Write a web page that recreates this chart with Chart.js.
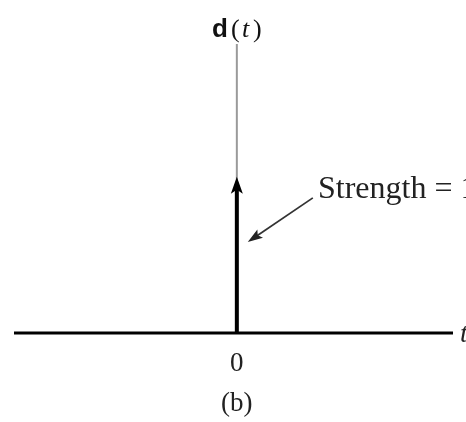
<!DOCTYPE html>
<html>
<head>
<meta charset="utf-8">
<script src="https://cdn.jsdelivr.net/npm/chart.js@4/dist/chart.umd.min.js"></script>
<style>
  html, body { margin: 0; padding: 0; background: #fff; }
  #wrap { width: 466px; height: 422px; }
</style>
</head>
<body>
<div id="wrap"><canvas id="chart" width="466" height="422"></canvas></div>
<script>
// impulse at t = 0 with unit strength
const impulseTimes = [0];
const impulseStrengths = [1];
const xTickValues = [0];
const xTickLabels = ['0'];
const strengthLabel = 'Strength = 1';
const panelLabel = '(b)';

const xMin = -1, xMax = 0.97;
const yMin = 0, yMax = 1.85;

// draws a filled arrowhead with a small notch at the back
function arrowHead(ctx, tipX, tipY, fromX, fromY, len, half, notch) {
  const ang = Math.atan2(tipY - fromY, tipX - fromX);
  const c = Math.cos(ang), s = Math.sin(ang);
  const bx = tipX - c * len, by = tipY - s * len;
  ctx.beginPath();
  ctx.moveTo(tipX, tipY);
  ctx.lineTo(bx - s * half, by + c * half);
  ctx.lineTo(tipX - c * (len - notch), tipY - s * (len - notch));
  ctx.lineTo(bx + s * half, by - c * half);
  ctx.closePath();
  ctx.fill();
}

const sketchPlugin = {
  id: 'sketch',
  beforeDatasetsDraw(chart) {
    const { ctx, scales: { x, y } } = chart;
    ctx.save();
    // vertical axis, thin gray
    ctx.strokeStyle = '#9a9a9a';
    ctx.lineWidth = 2;
    ctx.beginPath();
    ctx.moveTo(x.getPixelForValue(0), y.getPixelForValue(yMin));
    ctx.lineTo(x.getPixelForValue(0), y.getPixelForValue(yMax));
    ctx.stroke();
    ctx.restore();
  },
  afterDatasetsDraw(chart) {
    const { ctx, chartArea, scales: { x, y } } = chart;
    const y0 = y.getPixelForValue(0);
    ctx.save();

    // time axis
    ctx.strokeStyle = '#000';
    ctx.lineWidth = 3;
    ctx.beginPath();
    ctx.moveTo(chartArea.left, y0);
    ctx.lineTo(chartArea.right, y0);
    ctx.stroke();

    // arrowheads on the impulses
    ctx.fillStyle = '#000';
    impulseTimes.forEach((t, i) => {
      const px = x.getPixelForValue(t);
      const py = y.getPixelForValue(impulseStrengths[i]);
      arrowHead(ctx, px, py, px, y0, 17, 6, 4);
    });

    // tick labels
    ctx.fillStyle = '#222';
    ctx.textAlign = 'center';
    ctx.textBaseline = 'alphabetic';
    ctx.font = '27px "Liberation Serif", serif';
    xTickValues.forEach((v, i) => {
      ctx.fillText(xTickLabels[i], x.getPixelForValue(v), 371);
    });

    // axis names
    ctx.font = 'italic 28px "Liberation Serif", serif';
    ctx.textAlign = 'left';
    ctx.fillText('t', chartArea.right + 7, y0 + 9);

    const vx = x.getPixelForValue(0);
    ctx.fillStyle = '#111';
    ctx.font = 'bold 26px "Liberation Sans", sans-serif';
    ctx.fillText('d', 212, 37);
    ctx.font = '26px "Liberation Serif", serif';
    ctx.fillText('(', 231, 37);
    ctx.font = 'italic 26px "Liberation Serif", serif';
    ctx.fillText('t', 242, 37);
    ctx.font = '26px "Liberation Serif", serif';
    ctx.fillText(')', 253, 37);

    // strength annotation
    const ax0 = x.getPixelForValue(0.341), ay0 = y.getPixelForValue(0.865);
    const ax1 = x.getPixelForValue(0.049), ay1 = y.getPixelForValue(0.583);
    ctx.strokeStyle = '#333';
    ctx.lineWidth = 1.8;
    ctx.beginPath();
    ctx.moveTo(ax0, ay0);
    ctx.lineTo(ax1 + (ax0 - ax1) * 0.12, ay1 + (ay0 - ay1) * 0.12);
    ctx.stroke();
    ctx.fillStyle = '#222';
    arrowHead(ctx, ax1, ay1, ax0, ay0, 15, 5, 3);

    ctx.font = '32px "Liberation Serif", serif';
    ctx.fillText(strengthLabel, 318, 198);

    // panel caption
    ctx.textAlign = 'center';
    ctx.font = '27px "Liberation Serif", serif';
    ctx.fillText(panelLabel, vx, 411);
    ctx.restore();
  }
};

new Chart(document.getElementById('chart'), {
  type: 'scatter',
  data: {
    datasets: impulseTimes.map((t, i) => ({
      type: 'line',
      data: [{ x: t, y: 0 }, { x: t, y: impulseStrengths[i] * 0.93 }],
      borderColor: '#000',
      borderWidth: 4,
      pointRadius: 0,
      fill: false
    }))
  },
  options: {
    responsive: false,
    animation: false,
    layout: { padding: { left: 14, right: 13, top: 44, bottom: 89 } },
    plugins: { legend: { display: false }, tooltip: { enabled: false } },
    scales: {
      x: { type: 'linear', min: xMin, max: xMax, display: false },
      y: { type: 'linear', min: yMin, max: yMax, display: false }
    }
  },
  plugins: [sketchPlugin]
});
</script>
</body>
</html>
